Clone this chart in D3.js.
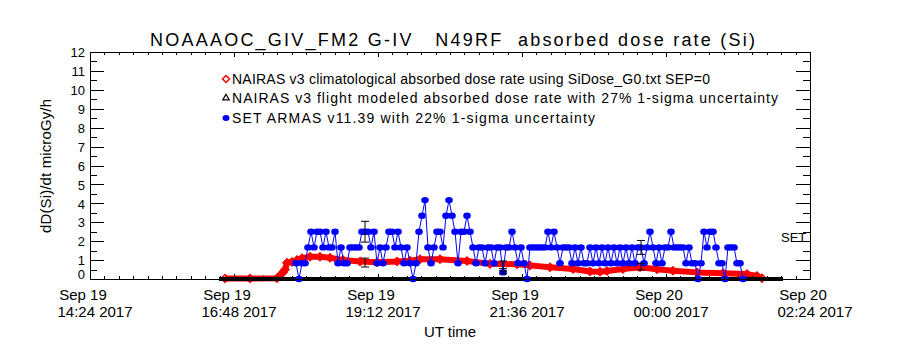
<!DOCTYPE html>
<html>
<head>
<meta charset="utf-8">
<script src="https://cdn.jsdelivr.net/npm/d3@7"></script>
<style>
  body { margin: 0; background: #fff; }
  text { font-family: "Liberation Sans", Arial, sans-serif; fill: #000; }
</style>
</head>
<body>
<div id="chart"></div>
<script>
// NAIRAS v3 climatological absorbed dose rate (red diamonds)
const climTimes = [
  "2017-09-19 16:39", "2017-09-19 17:04", "2017-09-19 17:31", "2017-09-19 17:34",
  "2017-09-19 17:37", "2017-09-19 17:39", "2017-09-19 17:41", "2017-09-19 17:46",
  "2017-09-19 17:51", "2017-09-19 17:56", "2017-09-19 18:04", "2017-09-19 18:14",
  "2017-09-19 18:24", "2017-09-19 18:37", "2017-09-19 18:54", "2017-09-19 19:11",
  "2017-09-19 19:31", "2017-09-19 19:44", "2017-09-19 19:54", "2017-09-19 20:14",
  "2017-09-19 20:41", "2017-09-19 21:04", "2017-09-19 21:31", "2017-09-19 21:44",
  "2017-09-19 22:04", "2017-09-19 22:27", "2017-09-19 22:44", "2017-09-19 22:54",
  "2017-09-19 23:01", "2017-09-19 23:17", "2017-09-19 23:34", "2017-09-19 23:51",
  "2017-09-20 00:07", "2017-09-20 00:31", "2017-09-20 00:57", "2017-09-20 01:21",
  "2017-09-20 01:31", "2017-09-20 01:36"
];
const climValues = [
  0.03, 0.03, 0.04, 0.2, 0.35, 0.5, 0.86, 0.9, 1.0, 1.1, 1.18, 1.18,
  1.12, 1.0, 0.93, 0.88, 0.92, 0.97, 1.04, 1.04, 0.95, 0.8, 0.78, 0.72,
  0.62, 0.53, 0.4, 0.38, 0.42, 0.53, 0.62, 0.52, 0.44, 0.35, 0.3, 0.26,
  0.16, 0.04
];

// NAIRAS v3 flight modeled (black triangles) - flat trace along the bottom
const flightTimes = ["2017-09-19 16:33", "2017-09-20 01:57"];
const flightValues = [0, 0];

// SET ARMAS v11.39 (blue dots), one reading every 3 minutes
const armasStart = "2017-09-19 17:50";
const armasStepMin = 3;
const armasValues = [
  0.83, 0, 0.83, 0.83, 1.67, 2.5, 1.67, 2.5, 2.5, 1.67,
  2.5, 1.67, 1.67, 2.5, 0.83, 1.67, 0.83, 0.83, 1.67, 1.67,
  1.67, 1.67, 2.5, 2.5, 2.5, 1.67, 2.5, 0.83, 1.67, 0.83,
  1.67, 2.5, 2.5, 1.67, 2.5, 1.67, 0.83, 1.67, 0.83, 0,
  0.83, 2.5, 3.34, 4.17, 1.67, 0.83, 1.67, 2.5, 2.5, 1.67,
  3.34, 4.17, 3.34, 2.5, 0.83, 2.5, 2.5, 3.34, 2.5, 1.67,
  0.83, 1.67, 1.67, 0.83, 1.67, 1.67, 0.83, 1.67, 1.67, 0.35,
  1.67, 1.67, 2.5, 1.67, 0.83, 1.67, 0.83, 0, 1.67, 1.67,
  1.67, 1.67, 1.67, 1.67, 2.5, 1.67, 2.5, 1.67, 0.83, 1.67,
  1.67, 1.67, 0.83, 1.67, 0.83, 1.67, 0.83, 0.83, 1.67, 0.83,
  1.67, 0.83, 1.67, 0.83, 1.67, 0.83, 1.67, 0.83, 1.67, 0.83,
  1.67, 0.83, 1.67, 0.83, 1.67, 1.67, 0.83, 1.67, 2.5, 1.67,
  0.83, 1.67, 0.83, 1.67, 1.67, 2.5, 1.67, 1.67, 1.67, 1.67,
  0.83, 1.67, 0.83, 0.83, 0, 0.83, 2.5, 1.67, 2.5, 2.5,
  1.67, 0.83, 0.83, 0, 1.67, 1.67, 1.67, 0.83, 0.83, 0
];

// error bars (1-sigma) drawn at a few times
const errTimes = ["2017-09-19 18:59", "2017-09-19 21:17", "2017-09-19 23:35"];
const errArmas = [2.5, 0.35, 1.67];
const errNairas = [0.87, 0.75, 0.65];
const armasSigma = 0.22;
const nairasSigma = 0.27;

// axis ticks
const xTickTimes = [
  "2017-09-19 14:24", "2017-09-19 16:48", "2017-09-19 19:12",
  "2017-09-19 21:36", "2017-09-20 00:00", "2017-09-20 02:24"
];
const yTicks = [0, 1, 2, 3, 4, 5, 6, 7, 8, 9, 10, 11, 12];

const legendLabels = [
  "NAIRAS v3 climatological absorbed dose rate using SiDose_G0.txt SEP=0",
  "NAIRAS v3 flight modeled absorbed dose rate with 27% 1-sigma uncertainty",
  "SET ARMAS v11.39 with 22% 1-sigma uncertainty"
];
const legendWidths = [478, 546, 363];

// set up
const width = 900, height = 350;
const plotLeft = 90, plotRight = 810, plotTop = 52, plotBottom = 279;

const parse = d3.utcParse("%Y-%m-%d %H:%M");
const xTicks = xTickTimes.map(parse);

const x = d3.scaleUtc()
  .domain([xTicks[0], xTicks[xTicks.length - 1]])
  .range([plotLeft, plotRight]);
const y = d3.scaleLinear().domain([0, 12]).range([plotBottom, plotTop]);

const svg = d3.select("#chart")
  .append("svg")
  .attr("width", width)
  .attr("height", height)
  .style("background", "#fff");

// ---- data marks ----
const clim = climTimes.map((t, i) => ({ t: parse(t), v: climValues[i] }));
const flight = flightTimes.map((t, i) => ({ t: parse(t), v: flightValues[i] }));
const t0 = parse(armasStart);
const armas = armasValues.map((v, i) => ({ t: new Date(+t0 + i * armasStepMin * 60000), v: v }));

const line = d3.line().x(d => x(d.t)).y(d => y(d.v));

// red climatological trace
svg.append("path")
  .datum(clim)
  .attr("d", line)
  .attr("fill", "none")
  .attr("stroke", "#ff0000")
  .attr("stroke-width", 6)
  .attr("stroke-linejoin", "round");

const diamond = d3.symbol().type(d3.symbolDiamond2).size(40);
svg.append("g")
  .selectAll("path")
  .data(clim)
  .join("path")
  .attr("transform", d => `translate(${x(d.t)},${y(d.v)})`)
  .attr("d", diamond)
  .attr("fill", "none")
  .attr("stroke", "#ff0000")
  .attr("stroke-width", 1.5);

// black flight modeled trace along the bottom
svg.append("path")
  .datum(flight)
  .attr("d", line)
  .attr("fill", "none")
  .attr("stroke", "#000")
  .attr("stroke-width", 4);

// blue ARMAS trace
svg.append("path")
  .datum(armas)
  .attr("d", line)
  .attr("fill", "none")
  .attr("stroke", "#0000ff")
  .attr("stroke-width", 1);

svg.append("g")
  .selectAll("ellipse")
  .data(armas)
  .join("ellipse")
  .attr("cx", d => x(d.t))
  .attr("cy", d => y(d.v))
  .attr("rx", 3.8)
  .attr("ry", 3.2)
  .attr("fill", "#0000ff");

// error bars
const errG = svg.append("g").attr("stroke", "#000").attr("stroke-width", 1);
errTimes.forEach((ts, i) => {
  const cx = x(parse(ts));
  [[errArmas[i], armasSigma], [errNairas[i], nairasSigma]].forEach(([v, s]) => {
    const lo = y(v * (1 - s)), hi = y(v * (1 + s));
    errG.append("line").attr("x1", cx).attr("x2", cx).attr("y1", lo).attr("y2", hi);
    errG.append("line").attr("x1", cx - 4).attr("x2", cx + 4).attr("y1", lo).attr("y2", lo);
    errG.append("line").attr("x1", cx - 4).attr("x2", cx + 4).attr("y1", hi).attr("y2", hi);
  });
});

// ---- frame and ticks ----
svg.append("rect")
  .attr("x", plotLeft + 0.5).attr("y", plotTop + 0.5)
  .attr("width", plotRight - plotLeft).attr("height", plotBottom - plotTop)
  .attr("fill", "none").attr("stroke", "#000")
  .attr("shape-rendering", "crispEdges");

const tickG = svg.append("g").attr("stroke", "#000").attr("shape-rendering", "crispEdges");

// y major / minor ticks on both sides
const yMinor = d3.range(0.5, 12, 1);
[[yTicks, 14.4], [yMinor, 7.2]].forEach(([vals, len]) => {
  vals.forEach(v => {
    const yy = Math.round(y(v)) + 0.5;
    tickG.append("line").attr("x1", plotLeft).attr("x2", plotLeft + len).attr("y1", yy).attr("y2", yy);
    tickG.append("line").attr("x1", plotRight - len).attr("x2", plotRight).attr("y1", yy).attr("y2", yy);
  });
});

// x major / minor ticks on top and bottom
const xMinor = [];
for (let i = 0; i < xTicks.length - 1; i++) {
  const a = +xTicks[i], b = +xTicks[i + 1];
  d3.range(1, 10).forEach(k => xMinor.push(new Date(a + k * (b - a) / 10)));
}
[[xTicks, 5], [xMinor, 3]].forEach(([vals, len]) => {
  vals.forEach(t => {
    const xx = Math.round(x(t)) + 0.5;
    tickG.append("line").attr("x1", xx).attr("x2", xx).attr("y1", plotBottom).attr("y2", plotBottom - len);
    tickG.append("line").attr("x1", xx).attr("x2", xx).attr("y1", plotTop).attr("y2", plotTop + len);
  });
});

// y tick labels (the zero label sits raised above the x axis)
svg.append("g")
  .selectAll("text")
  .data(yTicks)
  .join("text")
  .attr("x", plotLeft - 5)
  .attr("y", d => Math.min(y(d) + 0.5, y(0) - 4.5))
  .attr("dy", "0.36em")
  .attr("text-anchor", "end")
  .style("font-size", "13px")
  .text(d => d);

// x tick labels (two lines)
const fmtDay = d3.utcFormat("%b %d");
const fmtTime = d3.utcFormat("%H:%M %Y");
const xl = svg.append("g")
  .selectAll("g")
  .data(xTicks)
  .join("g")
  .attr("transform", d => `translate(${x(d)},0)`);
xl.append("text").attr("x", -7).attr("y", 300).attr("text-anchor", "middle")
  .style("font-size", "15px").text(d => fmtDay(d));
xl.append("text").attr("x", 5).attr("y", 317).attr("text-anchor", "middle")
  .style("font-size", "15px").text(d => fmtTime(d));

// axis titles
svg.append("text")
  .attr("x", 450).attr("y", 337)
  .attr("text-anchor", "middle")
  .style("font-size", "15px")
  .text("UT time");

svg.append("text")
  .attr("transform", "translate(51,166) rotate(-90)")
  .attr("text-anchor", "middle")
  .attr("textLength", 134)
  .style("font-size", "15px")
  .text("dD(Si)/dt microGy/h");

// title
svg.append("text")
  .attr("x", 150).attr("y", 46)
  .attr("textLength", 605)
  .style("font-size", "18px")
  .text("NOAAAOC_GIV_FM2 G-IV\u00a0\u00a0\u00a0N49RF\u00a0\u00a0absorbed dose rate (Si)");

// SET label at the right
svg.append("text")
  .attr("x", 781).attr("y", y(2) + 1)
  .style("font-size", "13px")
  .text("SET");

// legend
const legY = [79, 98, 118];
const leg = svg.append("g");
leg.append("path")
  .attr("transform", `translate(226,${legY[0]})`)
  .attr("d", d3.symbol().type(d3.symbolDiamond2).size(30))
  .attr("fill", "none").attr("stroke", "#ff0000").attr("stroke-width", 1.5);
leg.append("path")
  .attr("transform", `translate(226,${legY[1]})`)
  .attr("d", d3.symbol().type(d3.symbolTriangle2).size(30))
  .attr("fill", "none").attr("stroke", "#000").attr("stroke-width", 1.2);
leg.append("ellipse")
  .attr("cx", 226).attr("cy", legY[2]).attr("rx", 3.5).attr("ry", 3)
  .attr("fill", "#0000ff");
leg.selectAll("text")
  .data(legendLabels)
  .join("text")
  .attr("x", 232)
  .attr("y", (d, i) => legY[i] + 5)
  .attr("textLength", (d, i) => legendWidths[i])
  .style("font-size", "14px")
  .text(d => d);
</script>
</body>
</html>
